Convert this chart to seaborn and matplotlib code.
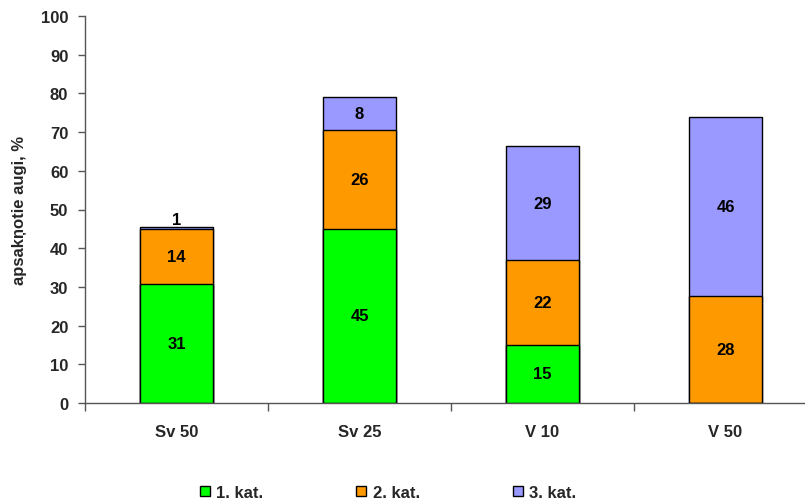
import matplotlib
matplotlib.use("Agg")
import matplotlib.pyplot as plt
import seaborn as sns
import pandas as pd
from matplotlib.patches import Patch

# Data
groups = ["Sv 50", "Sv 25", "V 10", "V 50"]
kat1 = [30.7, 45.0, 15.1, 0.0]
kat2 = [14.3, 25.6, 21.8, 27.7]
kat3 = [0.6, 8.4, 29.4, 46.2]
series_names = ["1. kat.", "2. kat.", "3. kat."]
colors = ["#00FF00", "#FF9900", "#9999FF"]

df = pd.DataFrame({"group": groups, "k1": kat1, "k2": kat2, "k3": kat3})
df["c1"] = df["k1"]
df["c2"] = df["k1"] + df["k2"]
df["c3"] = df["c2"] + df["k3"]

sns.set_theme(style="white")
plt.rcParams["font.family"] = ["Liberation Sans", "DejaVu Sans"]
plt.rcParams["font.weight"] = "bold"

fig = plt.figure(figsize=(8.05, 5.02), dpi=100)
ax = fig.add_axes([85 / 805, 1 - 404 / 502, 732 / 805, 387 / 502])

# stacked bars drawn as cumulative totals, tallest first
for col, color in zip(["c3", "c2", "c1"], colors[::-1]):
    sns.barplot(data=df, x="group", y=col, color=color, edgecolor="black",
                linewidth=1.0, width=0.4, saturation=1, ax=ax)

# segment labels
for i in range(len(groups)):
    base = 0.0
    for vals in (kat1, kat2, kat3):
        v = vals[i]
        if v > 0:
            y = base + v / 2 if v >= 3 else base + v + 1.8
            ax.text(i, y, f"{v:.0f}", ha="center", va="center",
                    fontsize=12, fontweight="bold", color="black")
        base += v

ax.set_ylim(0, 100)
ax.set_xlim(-0.5, 3.5)
ax.set_yticks(range(0, 101, 10))
ax.set_xticks([-0.5, 0.5, 1.5, 2.5, 3.5], minor=True)
ax.tick_params(axis="x", which="major", length=0, pad=15, labelsize=12)
ax.tick_params(axis="x", which="minor", length=6, width=1, color="#555555",
               direction="out", bottom=True)
ax.tick_params(axis="y", length=5, width=1, color="#555555", direction="out",
               left=True, labelsize=12, pad=7)
for lab in ax.get_xticklabels() + ax.get_yticklabels():
    lab.set_fontweight("bold")

ax.set_xlabel("")
ax.set_ylabel("apsakņotie augi, %", fontsize=12, fontweight="bold", labelpad=10)
sns.despine(ax=ax)
for s in ("left", "bottom"):
    ax.spines[s].set_color("#555555")
    ax.spines[s].set_linewidth(1)

handles = [Patch(facecolor=c, edgecolor="black", linewidth=1) for c in colors]
fig.legend(handles, series_names, loc="lower center", ncol=3,
           bbox_to_anchor=(0.482, -0.028), frameon=False,
           prop={"weight": "bold", "size": 12}, handlelength=0.6,
           handleheight=0.6, handletextpad=0.4, columnspacing=5.56)

fig.savefig("out.png", dpi=100)
